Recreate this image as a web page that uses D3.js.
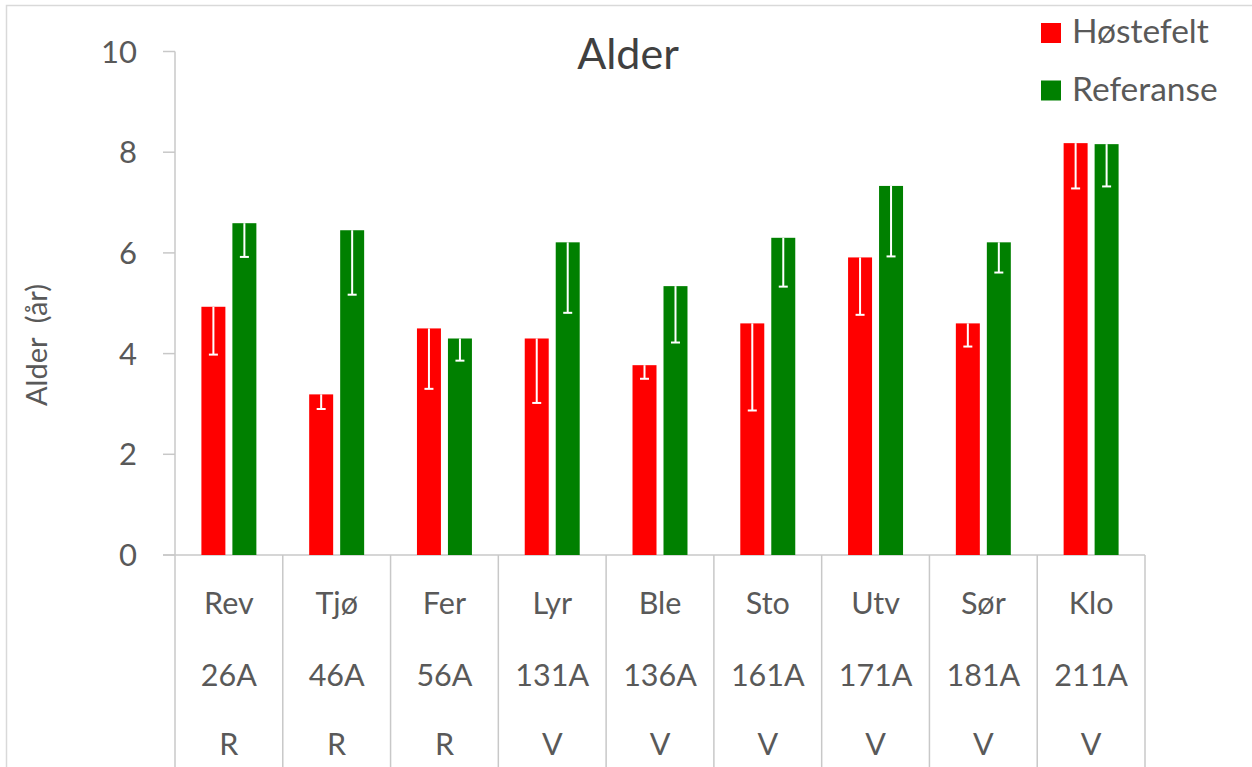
<!DOCTYPE html>
<html>
<head>
<meta charset="utf-8">
<script src="https://cdn.jsdelivr.net/npm/d3@7"></script>
<style>
  body { margin: 0; background: #fff; }
  text { font-family: Lato, "Open Sans", sans-serif; fill: #595959; }
</style>
</head>
<body>
<div id="chart"></div>
<script>
// site names, station codes and type (R / V)
const sites = ['Rev', 'Tjø', 'Fer', 'Lyr', 'Ble', 'Sto', 'Utv', 'Sør', 'Klo'];
const codes = ['26A', '46A', '56A', '131A', '136A', '161A', '171A', '181A', '211A'];
const types = ['R', 'R', 'R', 'V', 'V', 'V', 'V', 'V', 'V'];

// mean age and minus-error for each series
const hostefelt = [4.93, 3.19, 4.50, 4.30, 3.77, 4.60, 5.91, 4.60, 8.18];
const hostefeltErr = [0.95, 0.29, 1.20, 1.28, 0.27, 1.73, 1.14, 0.46, 0.90];
const referanse = [6.59, 6.45, 4.30, 6.21, 5.34, 6.30, 7.33, 6.21, 8.16];
const referanseErr = [0.67, 1.28, 0.44, 1.40, 1.12, 0.97, 1.40, 0.60, 0.84];

const seriesNames = ['Høstefelt', 'Referanse'];
const seriesColors = ['#ff0000', '#008000'];
const yTicks = [0, 2, 4, 6, 8, 10];

const width = 1252;
const height = 767;

const svg = d3.select('#chart').append('svg')
    .attr('width', width)
    .attr('height', height);

// chart frame
svg.append('rect')
    .attr('x', 6.5).attr('y', 5.5)
    .attr('width', 1400).attr('height', 900)
    .attr('fill', '#fff')
    .attr('stroke', '#d9d9d9')
    .attr('stroke-width', 1.5);

const x = d3.scaleBand().domain(sites).range([175, 1145]);
const xs = d3.scaleBand().domain(seriesNames).range([0, x.bandwidth()])
    .paddingInner(0.226).paddingOuter(0.852);
const y = d3.scaleLinear().domain([0, 10]).range([555, 51.5]);

const axisColor = '#c8c8c8';

// y axis line + ticks
svg.append('line')
    .attr('x1', 175).attr('x2', 175)
    .attr('y1', y(10)).attr('y2', height)
    .attr('stroke', axisColor).attr('stroke-width', 1.5);

svg.selectAll('.ytick').data(yTicks).enter().append('line')
    .attr('x1', 163).attr('x2', 175)
    .attr('y1', d => y(d)).attr('y2', d => y(d))
    .attr('stroke', axisColor).attr('stroke-width', 1.5);

svg.selectAll('.ylabel').data(yTicks).enter().append('text')
    .attr('x', 137)
    .attr('y', d => y(d))
    .attr('dy', '0.36em')
    .attr('text-anchor', 'end')
    .style('font-size', '31px')
    .text(d => d);

// x axis line and category separators
svg.append('line')
    .attr('x1', 163).attr('x2', 1145)
    .attr('y1', y(0)).attr('y2', y(0))
    .attr('stroke', axisColor).attr('stroke-width', 1.5);

svg.selectAll('.sep').data(sites).enter().append('line')
    .attr('x1', d => x(d) + x.bandwidth()).attr('x2', d => x(d) + x.bandwidth())
    .attr('y1', y(0)).attr('y2', height)
    .attr('stroke', axisColor).attr('stroke-width', 1.5);

// category labels (three rows)
const rows = [sites, codes, types];
const rowY = [614, 686, 755];
rows.forEach((labels, r) => {
    svg.selectAll('.cat' + r).data(labels).enter().append('text')
        .attr('x', (d, i) => x(sites[i]) + x.bandwidth() / 2)
        .attr('y', rowY[r])
        .attr('text-anchor', 'middle')
        .style('font-size', '30.5px')
        .text(d => d);
});

// bars
const series = [
    { name: 'Høstefelt', values: hostefelt, err: hostefeltErr, color: seriesColors[0] },
    { name: 'Referanse', values: referanse, err: referanseErr, color: seriesColors[1] }
];

series.forEach(s => {
    const g = svg.append('g');
    g.selectAll('rect').data(s.values).enter().append('rect')
        .attr('x', (d, i) => x(sites[i]) + xs(s.name))
        .attr('y', d => y(d))
        .attr('width', xs.bandwidth())
        .attr('height', d => y(0) - y(d))
        .attr('fill', s.color);

    // minus error bars, drawn in white
    const cx = i => x(sites[i]) + xs(s.name) + xs.bandwidth() / 2;
    g.selectAll('.err').data(s.values).enter().append('line')
        .attr('x1', (d, i) => cx(i)).attr('x2', (d, i) => cx(i))
        .attr('y1', d => y(d))
        .attr('y2', (d, i) => y(d - s.err[i]))
        .attr('stroke', '#fff').attr('stroke-width', 2);
    g.selectAll('.cap').data(s.values).enter().append('line')
        .attr('x1', (d, i) => cx(i) - 4.5).attr('x2', (d, i) => cx(i) + 4.5)
        .attr('y1', (d, i) => y(d - s.err[i]))
        .attr('y2', (d, i) => y(d - s.err[i]))
        .attr('stroke', '#fff').attr('stroke-width', 2);
});

// title
svg.append('text')
    .attr('x', 628).attr('y', 69)
    .attr('text-anchor', 'middle')
    .style('font-size', '43px')
    .style('fill', '#404040')
    .text('Alder');

// y axis title (double space kept)
svg.append('text')
    .attr('transform', 'translate(47,345) rotate(-90)')
    .attr('text-anchor', 'middle')
    .style('font-size', '29px')
    .style('white-space', 'pre')
    .text('Alder  (år)');

// legend
const legend = svg.selectAll('.legend').data(series).enter().append('g')
    .attr('transform', (d, i) => `translate(1041, ${23 + i * 57.5})`);
legend.append('rect')
    .attr('width', 20).attr('height', 20)
    .attr('fill', d => d.color);
legend.append('text')
    .attr('x', 31).attr('y', 20)
    .style('font-size', '33.5px')
    .text(d => d.name);
</script>
</body>
</html>
